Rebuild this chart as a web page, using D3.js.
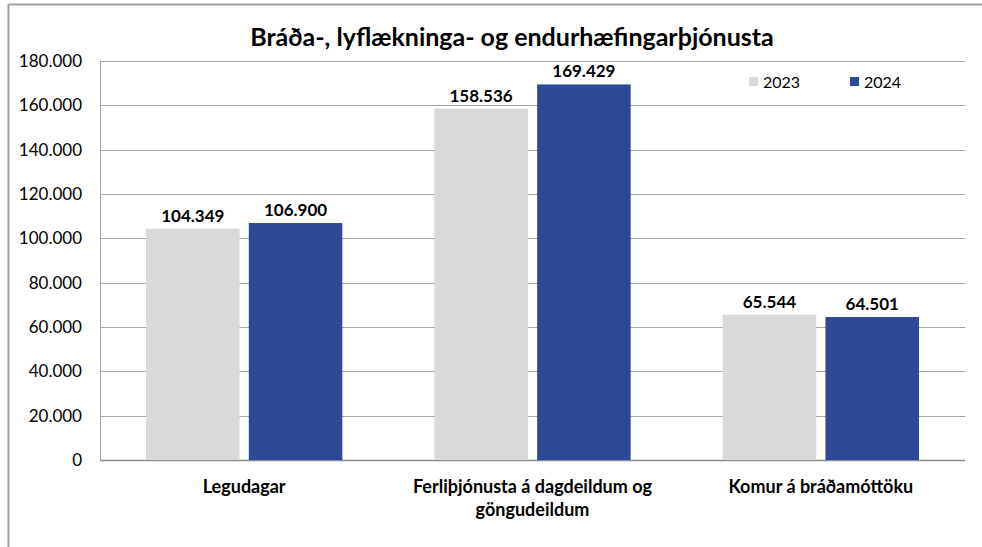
<!DOCTYPE html>
<meta charset="utf-8">
<head>
  <script src="https://d3js.org/d3.v7.min.js"></script>
  <style>
    body { margin: 0; background: #fff; }
    text { font-family: Lato, "Open Sans", sans-serif; fill: #000; }
  </style>
</head>
<body>
<div id="viz"></div>
<script>
  const categories = [["Legudagar"], ["Ferliþjónusta á dagdeildum og", "göngudeildum"], ["Komur á bráðamóttöku"]];
  const series = ["2023", "2024"];
  const values2023 = [104349, 158536, 65544];
  const values2024 = [106900, 169429, 64501];
  const ticks = [0, 20000, 40000, 60000, 80000, 100000, 120000, 140000, 160000, 180000];
  const colors = ["#d9d9d9", "#2e4a96"];

  const W = 982, H = 547;
  const margin = {top: 61, right: 17, bottom: 87, left: 100};
  const width = W - margin.left - margin.right,
        height = H - margin.top - margin.bottom;

  const fmt = v => d3.format(",")(v).replace(/,/g, ".");

  const svg = d3.select('#viz').append('svg')
    .attr('width', W).attr('height', H);

  // outer frame, only top and left edges show
  svg.append('line').attr('x1', 8.5).attr('x2', W).attr('y1', 4.5).attr('y2', 4.5)
    .attr('stroke', '#a0a0a0').attr('stroke-width', 2);
  svg.append('line').attr('x1', 8.5).attr('x2', 8.5).attr('y1', 4).attr('y2', H)
    .attr('stroke', '#a0a0a0').attr('stroke-width', 2);

  const g = svg.append('g').attr('transform', `translate(${margin.left},${margin.top})`);

  const x = d3.scaleBand().domain(d3.range(categories.length)).range([0, width]);
  const xs = d3.scaleBand().domain(series).range([46, x.bandwidth() - 46]).paddingInner(0.09);
  const y = d3.scaleLinear().domain([0, 180000]).range([height, 0]);

  // gridlines
  g.selectAll('.grid').data(ticks).join('line')
    .attr('x1', 0).attr('x2', width)
    .attr('y1', d => Math.round(y(d)) + 0.5).attr('y2', d => Math.round(y(d)) + 0.5)
    .attr('stroke', d => d === 0 ? '#8c8c8c' : '#a6a6a6').attr('stroke-width', d => d === 0 ? 1.5 : 1);

  // y axis line
  g.append('line').attr('x1', 0.5).attr('x2', 0.5).attr('y1', y(180000)).attr('y2', height)
    .attr('stroke', '#a6a6a6');

  g.selectAll('.ylab').data(ticks).join('text')
    .attr('x', -18).attr('y', d => y(d)).attr('dy', '0.35em')
    .attr('text-anchor', 'end').style('font-size', '17px')
    .text(d => fmt(d));

  const rows = categories.map((c, i) => ({i, vals: [values2023[i], values2024[i]]}));
  const grp = g.selectAll('.cat').data(rows).join('g')
    .attr('transform', d => `translate(${x(d.i)},0)`);

  grp.selectAll('rect').data(d => d.vals.map((v, k) => ({v, s: series[k], k}))).join('rect')
    .attr('x', d => xs(d.s)).attr('width', xs.bandwidth())
    .attr('y', d => y(d.v)).attr('height', d => height - y(d.v))
    .attr('fill', d => colors[d.k]);

  grp.selectAll('.val').data(d => d.vals.map((v, k) => ({v, s: series[k]}))).join('text')
    .attr('x', d => xs(d.s) + xs.bandwidth() / 2).attr('y', d => y(d.v) - 7)
    .attr('text-anchor', 'middle').style('font-size', '17px').style('font-weight', 'bold')
    .text(d => fmt(d.v));

  // category labels, wrapped by hand as in the original
  grp.each(function(d) {
    const t = d3.select(this).append('text')
      .attr('text-anchor', 'middle').style('font-size', '18px').style('font-weight', 'bold');
    categories[d.i].forEach((line, j) => {
      t.append('tspan').attr('x', x.bandwidth() / 2).attr('y', height + 33 + j * 23).text(line);
    });
  });

  svg.append('text').attr('x', 512).attr('y', 46).attr('text-anchor', 'middle')
    .style('font-size', '25px').style('font-weight', 'bold')
    .text('Bráða-, lyflækninga- og endurhæfingarþjónusta');

  // legend
  const leg = svg.append('g').attr('transform', 'translate(749,77)');
  series.forEach((s, k) => {
    leg.append('rect').attr('x', k * 101).attr('y', 0).attr('width', 9).attr('height', 9).attr('fill', colors[k]);
    leg.append('text').attr('x', k * 101 + 14).attr('y', 5).attr('dy', '0.35em')
      .style('font-size', '16px').text(s);
  });
</script>
</body>
</html>
